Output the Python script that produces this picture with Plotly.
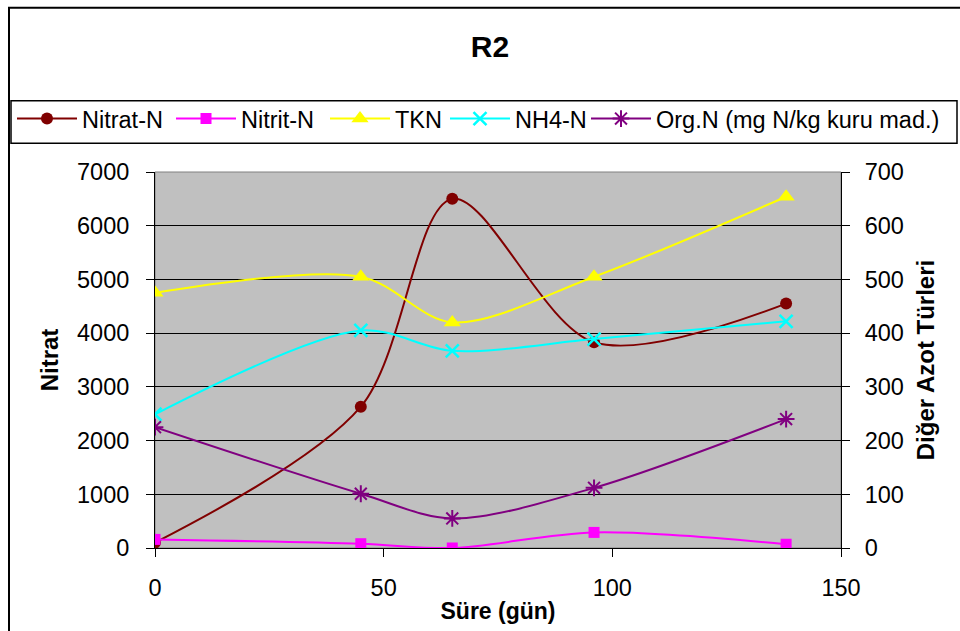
import plotly.graph_objects as go

days = [0, 45, 65, 96, 138]
nitrat = [100, 2630, 6500, 3830, 4550]
nitrit = [16, 8, 0, 29, 7]
tkn = [475, 505, 420, 505, 654]
nh4 = [249, 405, 367, 389, 422]
orgn = [225, 101, 55, 112, 240]

FONT = "Liberation Sans, Arial, sans-serif"
SM = 0.9

fig = go.Figure()
fig.add_trace(go.Scatter(x=days, y=nitrat, name="Nitrat-N", mode="lines+markers", legendwidth=84,
                         line=dict(color="#800000", width=2, shape="spline", smoothing=SM),
                         marker=dict(symbol="circle", size=12, color="#800000")))
fig.add_trace(go.Scatter(x=days, y=nitrit, name="Nitrit-N", mode="lines+markers", yaxis="y2", legendwidth=79,
                         line=dict(color="#FF00FF", width=2, shape="spline", smoothing=SM),
                         marker=dict(symbol="square", size=11, color="#FF00FF")))
fig.add_trace(go.Scatter(x=days, y=tkn, name="TKN", mode="lines+markers", yaxis="y2", legendwidth=45,
                         line=dict(color="#FFFF00", width=2, shape="spline", smoothing=SM),
                         marker=dict(symbol="triangle-up", size=15, color="#FFFF00")))
fig.add_trace(go.Scatter(x=days, y=nh4, name="NH4-N", mode="lines+markers", yaxis="y2", legendwidth=73,
                         line=dict(color="#00FFFF", width=2, shape="spline", smoothing=SM),
                         marker=dict(symbol="x-thin-open", size=13, color="#00FFFF",
                                     line=dict(color="#00FFFF", width=2.5))))
fig.add_trace(go.Scatter(x=days, y=orgn, name="Org.N (mg N/kg kuru mad.)", mode="lines+markers", yaxis="y2",
                         legend="legend2",
                         line=dict(color="#800080", width=2, shape="spline", smoothing=SM),
                         marker=dict(symbol="asterisk-open", size=14, color="#800080",
                                     line=dict(color="#800080", width=2))))

L, R, T, B = 155, 119, 172, 79
pw, ph = 960 - L - R, 631 - T - B

def px(xp):
    return (xp - L) / pw

def py(yp):
    return (631 - B - yp) / ph

leg_common = dict(orientation="h", yanchor="top", xanchor="left", borderwidth=0,
                  bgcolor="rgba(0,0,0,0)", font=dict(size=23.5, family=FONT),
                  itemwidth=60, tracegroupgap=0)

fig.update_layout(
    width=960, height=631,
    margin=dict(l=L, r=R, t=T, b=B),
    paper_bgcolor="white",
    plot_bgcolor="#C0C0C0",
    font=dict(family=FONT, size=23.5, color="black"),
    title=dict(text="<b>R2</b>", x=490 / 960, xanchor="center", xref="container",
               y=1 - 46 / 631, yanchor="middle", font=dict(size=30, family=FONT)),
    showlegend=True,
    legend=dict(x=px(12), y=py(96), **leg_common),
    legend2=dict(x=px(586), y=py(96), **leg_common),
    xaxis=dict(range=[0, 150], tickvals=[0, 50, 100, 150], showgrid=False, zeroline=False,
               showline=True, linecolor="black", linewidth=1, ticks="outside", ticklen=8,
               tickcolor="black", ticklabelstandoff=11,
               title=dict(text="<b>Süre (gün)</b>", font=dict(size=23), standoff=2)),
    yaxis=dict(range=[0, 7000], dtick=1000, showgrid=True, gridcolor="black", gridwidth=1,
               zeroline=False, showline=True, linecolor="black", linewidth=1,
               ticks="outside", ticklen=8, tickcolor="black", ticklabelstandoff=12,
               title=dict(text="<b>Nitrat</b>", font=dict(size=24), standoff=11)),
    yaxis2=dict(range=[0, 700], dtick=100, overlaying="y", side="right", showgrid=False,
                zeroline=False, showline=True, linecolor="black", linewidth=1,
                ticks="outside", ticklen=8, tickcolor="black", ticklabelstandoff=10,
                title=dict(text="<b>Diğer Azot Türleri</b>", font=dict(size=24), standoff=14)),
    shapes=[
        dict(type="rect", xref="paper", yref="paper", x0=0, x1=1, y0=0, y1=1,
             line=dict(color="#808080", width=1), layer="below"),
        dict(type="rect", xref="paper", yref="paper", x0=px(9), x1=px(975), y0=py(650), y1=py(6),
             line=dict(color="black", width=2), layer="below"),
        dict(type="rect", xref="paper", yref="paper", x0=px(11), x1=px(957), y0=py(143), y1=py(100),
             line=dict(color="black", width=1.5), layer="below"),
    ],
)

fig.write_html("out.html")
